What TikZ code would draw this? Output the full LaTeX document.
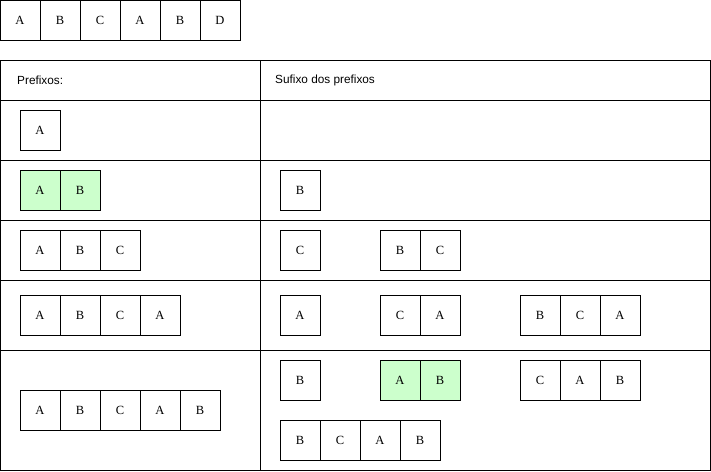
\documentclass[tikz,border=0pt]{standalone}
\usepackage{fontspec}
\setmainfont{Liberation Serif}
\newfontfamily\headfont{Liberation Sans}
\usepackage{xcolor}
\usepackage{tikz}
\usetikzlibrary{positioning}
\definecolor{matchgreen}{RGB}{204, 255, 204}

\begin{document}
\begin{tikzpicture}[
    x=1pt, y=-1pt,
    node distance=0pt,
    cell/.style={rectangle, draw=black, line width=0.8pt, minimum size=40pt, inner sep=0pt, outer sep=0pt, font=\fontsize{12.5}{14}\selectfont},
    hit/.style={cell, fill=matchgreen},
    head/.style={anchor=west, inner sep=0pt, font=\headfont\fontsize{11.8}{13}\selectfont},
    grid/.style={draw=black, line width=0.8pt}
]
\useasboundingbox (0,0) rectangle (711,471);

% the word
\node[cell, anchor=north west] (w1) at (0,0) {A};
\node[cell, right=of w1] (w2) {B};
\node[cell, right=of w2] (w3) {C};
\node[cell, right=of w3] (w4) {A};
\node[cell, right=of w4] (w5) {B};
\node[cell, right=of w5] (w6) {D};

% table
\draw[grid] (0,60) rectangle (710,470);
\draw[grid] (260,60) -- (260,470);
\draw[grid] (0,100) -- (710,100);
\draw[grid] (0,160) -- (710,160);
\draw[grid] (0,220) -- (710,220);
\draw[grid] (0,280) -- (710,280);
\draw[grid] (0,350) -- (710,350);

\node[head] (hpre) at (17,80) {Prefixos:};
\node[head] (hsuf) at (275,80) {Sufixo dos prefixos};

% prefix 1
\node[cell, anchor=north west] (p1a) at (20,110) {A};

% prefix 2
\node[hit, anchor=north west] (p2a) at (20,170) {A};
\node[hit, right=of p2a] (p2b) {B};
\node[cell, anchor=north west] (s2a) at (280,170) {B};

% prefix 3
\node[cell, anchor=north west] (p3a) at (20,230) {A};
\node[cell, right=of p3a] (p3b) {B};
\node[cell, right=of p3b] (p3c) {C};
\node[cell, anchor=north west] (s3a) at (280,230) {C};
\node[cell, anchor=north west] (s3b) at (380,230) {B};
\node[cell, right=of s3b] (s3c) {C};

% prefix 4
\node[cell, anchor=north west] (p4a) at (20,295) {A};
\node[cell, right=of p4a] (p4b) {B};
\node[cell, right=of p4b] (p4c) {C};
\node[cell, right=of p4c] (p4d) {A};
\node[cell, anchor=north west] (s4a) at (280,295) {A};
\node[cell, anchor=north west] (s4b) at (380,295) {C};
\node[cell, right=of s4b] (s4c) {A};
\node[cell, anchor=north west] (s4d) at (520,295) {B};
\node[cell, right=of s4d] (s4e) {C};
\node[cell, right=of s4e] (s4f) {A};

% prefix 5
\node[cell, anchor=north west] (p5a) at (20,390) {A};
\node[cell, right=of p5a] (p5b) {B};
\node[cell, right=of p5b] (p5c) {C};
\node[cell, right=of p5c] (p5d) {A};
\node[cell, right=of p5d] (p5e) {B};
\node[cell, anchor=north west] (s5a) at (280,360) {B};
\node[hit, anchor=north west] (s5b) at (380,360) {A};
\node[hit, right=of s5b] (s5c) {B};
\node[cell, anchor=north west] (s5d) at (520,360) {C};
\node[cell, right=of s5d] (s5e) {A};
\node[cell, right=of s5e] (s5f) {B};
\node[cell, anchor=north west] (s5g) at (280,420) {B};
\node[cell, right=of s5g] (s5h) {C};
\node[cell, right=of s5h] (s5i) {A};
\node[cell, right=of s5i] (s5j) {B};

\end{tikzpicture}
\end{document}
